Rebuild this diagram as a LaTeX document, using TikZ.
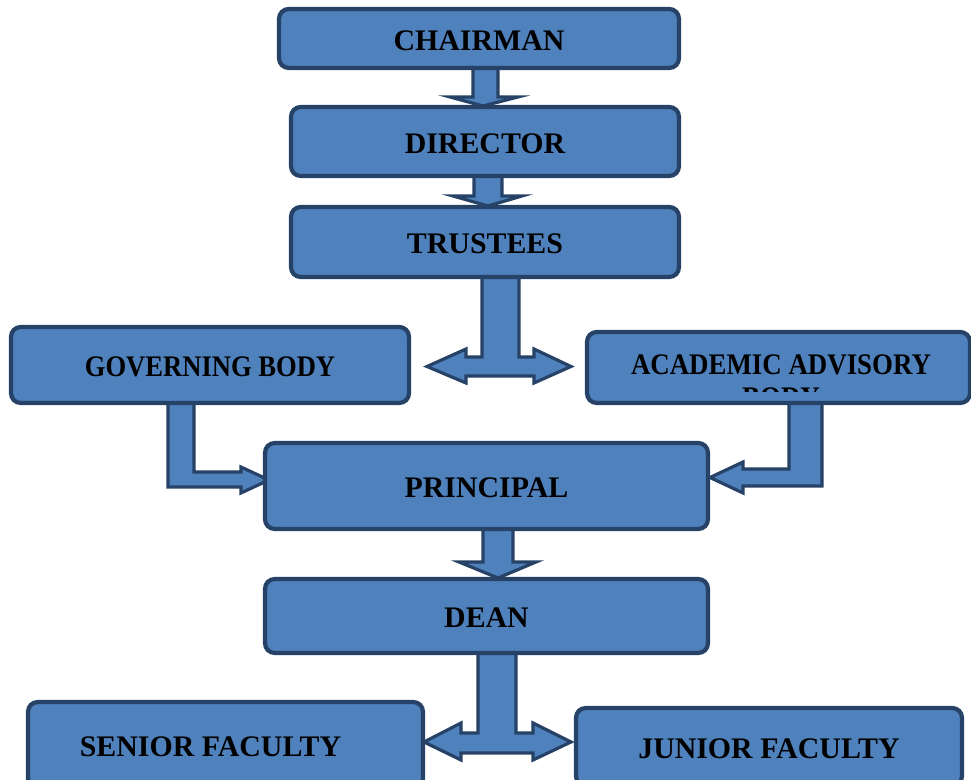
\documentclass[tikz,border=0pt]{standalone}
\usepackage{fontspec}
\setmainfont{Liberation Serif}
\usepackage{graphicx}
\usetikzlibrary{calc}
\pgfdeclarelayer{background}
\pgfsetlayers{background,main}
\definecolor{boxfill}{HTML}{4F81BD}
\definecolor{boxline}{HTML}{264266}
\tikzset{
  orgbox/.style={draw=boxline, fill=boxfill, line width=2.4pt, rounded corners=5.5pt,
    font=\bfseries\fontsize{17}{20}\selectfont, text=black, inner sep=0pt,
    text height=13.6pt, text depth=0pt},
  blockarrow/.style={draw=boxline, fill=boxfill, line width=1.8pt, line join=miter},
  lbl/.style={font=\bfseries\fontsize{17}{20}\selectfont, text=black, inner sep=0pt}
}
\begin{document}
\begin{tikzpicture}[x=0.02cm,y=-0.02cm]
\useasboundingbox (0,0) rectangle (971,780);
\clip (0,0) rectangle (971,780);
% boxes
\node[orgbox, minimum width=8cm,    minimum height=1.18cm] (chair) at (479,38.5) {CHAIRMAN};
\node[orgbox, minimum width=7.76cm, minimum height=1.38cm] (dir)   at (485,141.5) {DIRECTOR};
\node[orgbox, minimum width=7.76cm, minimum height=1.4cm]  (trus)  at (485,242) {TRUSTEES};
\node[orgbox, minimum width=7.96cm, minimum height=1.52cm] (gov)   at (210,365) {\scalebox{0.89}[1]{GOVERNING BODY}};
\node[orgbox, minimum width=7.66cm, minimum height=1.42cm] (acad)  at (778.5,367.5) {};
\begin{scope}
  \clip (590,334) rectangle (968,392);
  \node[lbl] (acadtxt) at (781,365) {\scalebox{0.9}[1]{ACADEMIC ADVISORY}};
  \node[lbl] (acadtxt2) at (781,398) {\scalebox{0.9}[1]{BODY}};
\end{scope}
\node[orgbox, minimum width=8.86cm, minimum height=1.72cm] (prin)  at (486.5,486) {PRINCIPAL};
\node[orgbox, minimum width=8.86cm, minimum height=1.48cm] (dean)  at (486.5,616) {DEAN};
\node[orgbox, minimum width=7.9cm,  minimum height=1.72cm] (senior) at (225.5,745) {SENIOR FACULTY\hspace*{0.6cm}\null};
\node[orgbox, minimum width=7.72cm, minimum height=1.56cm] (junior) at (769,747) {JUNIOR FACULTY};
% block arrows
\begin{pgfonlayer}{background}
  % chairman -> director
  \draw[blockarrow] (473,60) -- (473,97) -- (450,97) -- (483,106) -- (518,97) -- (498,97) -- (498,60) -- cycle;
  % director -> trustees
  \draw[blockarrow] (474,165) -- (474,196) -- (453,196) -- (488,206) -- (522,196) -- (502,196) -- (502,165) -- cycle;
  % trustees -> governing body / academic advisory body
  \draw[blockarrow] (482,270) -- (482,357) -- (466,357) -- (466,349) -- (427,366.5) -- (466,383) -- (466,376)
     -- (534,376) -- (534,383) -- (571,366.5) -- (534,349) -- (534,357) -- (519,357) -- (519,270) -- cycle;
  % governing body -> principal
  \draw[blockarrow] (168,395) -- (168,487) -- (241,487) -- (241,493) -- (269,480) -- (241,467) -- (241,472)
     -- (194,472) -- (194,395) -- cycle;
  % academic advisory body -> principal
  \draw[blockarrow] (822,398) -- (822,486) -- (743,486) -- (743,493) -- (710,477.5) -- (743,462) -- (743,469)
     -- (789,469) -- (789,398) -- cycle;
  % principal -> dean
  \draw[blockarrow] (483,520) -- (483,562) -- (459,562) -- (498,578) -- (536,562) -- (513,562) -- (513,520) -- cycle;
  % dean -> senior / junior faculty
  \draw[blockarrow] (478,645) -- (478,733) -- (461,733) -- (461,723) -- (424,742) -- (461,760) -- (461,753)
     -- (533,753) -- (533,760) -- (571,742) -- (533,723) -- (533,733) -- (516,733) -- (516,645) -- cycle;
\end{pgfonlayer}
\end{tikzpicture}
\end{document}
